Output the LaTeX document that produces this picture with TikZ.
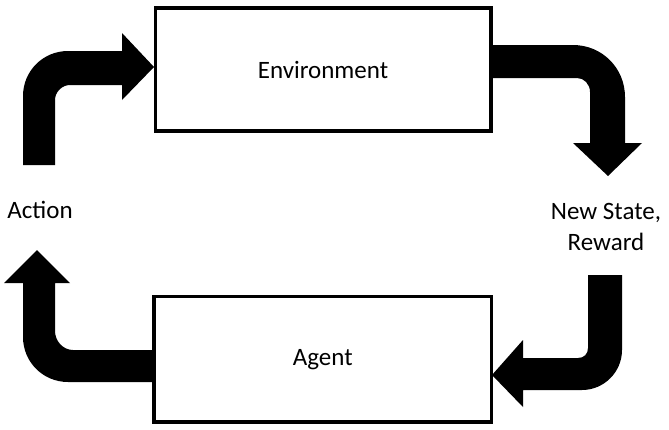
\documentclass[tikz,border=0pt]{standalone}
\usepackage{fontspec}
\setmainfont{Carlito}
\begin{document}
\begin{tikzpicture}[x=1pt,y=-1pt,
  box/.style={draw=black,line width=3.5pt,fill=white,inner sep=0pt},
  lbl/.style={font=\fontsize{25}{31}\selectfont,inner sep=0pt,align=center},
  blockarrow/.style={fill=black,draw=none}]
\useasboundingbox (0,0) rectangle (669,429);
% boxes
\node[box,minimum width=335.5pt,minimum height=123pt] (env) at (323,69.5) {};
\node[box,minimum width=337.5pt,minimum height=125.5pt] (agent) at (322.75,359.25) {};
\node[lbl] (envt) at (env.center) {Environment};
\node[lbl] (agentt) at (agent.center) {Agent};
% labels
\node[lbl] (action) at (40,210) {Action};
\node[lbl] (state) at (606,227) {New State,\\Reward};
% block arrows
% Action -> Environment
\fill[blockarrow] (23,165) -- (23,96) .. controls (23,71) and (43,51) .. (68,51)
  -- (122,51) -- (122,33) -- (154,67) -- (122,100) -- (122,85) -- (70,85)
  .. controls (62,85) and (55,92) .. (55,100) -- (55,165) -- cycle;
% Environment -> New State
\fill[blockarrow] (490,45) -- (573,45) .. controls (602,45) and (625,68) .. (625,97)
  -- (625,143) -- (642,143) -- (608,176) -- (573,143) -- (590,143) -- (590,92)
  .. controls (590,84) and (584,78) .. (577,78) -- (490,78) -- cycle;
% Reward -> Agent
\fill[blockarrow] (588,275) -- (622,275) -- (622,350) .. controls (622,372) and (604,390) .. (582,390)
  -- (523,390) -- (523,407) -- (492,375) -- (523,340) -- (523,358) -- (578,358)
  .. controls (584,358) and (588,354) .. (588,348) -- cycle;
% Agent -> Action
\fill[blockarrow] (154,350) -- (73,350) .. controls (63,350) and (55,341) .. (55,331)
  -- (55,283) -- (70,283) -- (37,250) -- (4,283) -- (23,283) -- (23,337)
  .. controls (23,362) and (43,382) .. (68,382) -- (154,382) -- cycle;
\end{tikzpicture}
\end{document}
